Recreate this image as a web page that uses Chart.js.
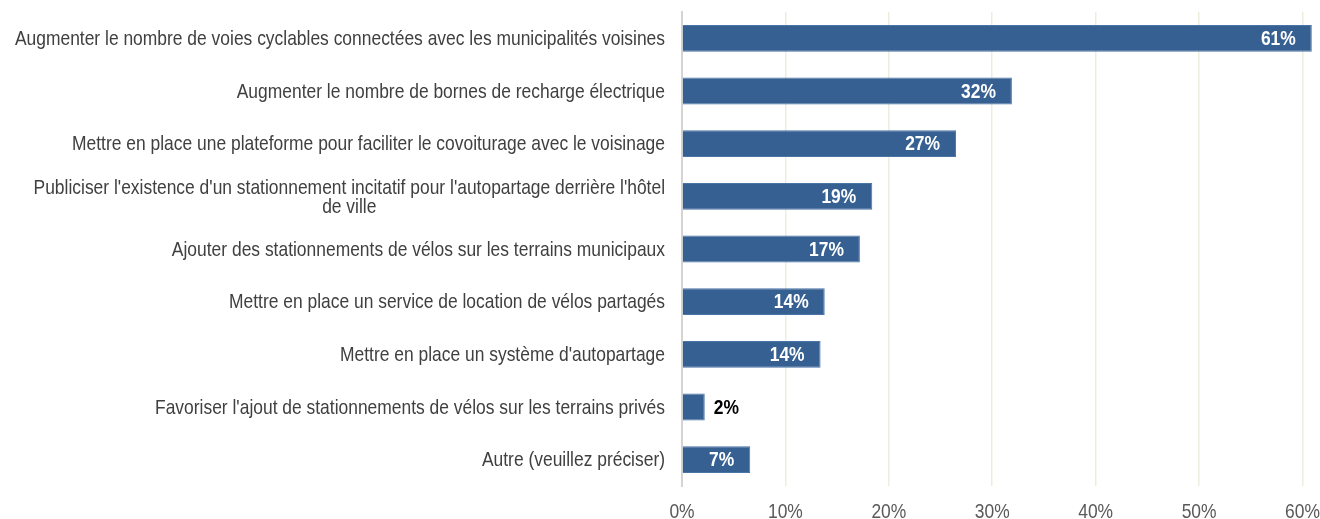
<!DOCTYPE html>
<html>
<head>
<meta charset="utf-8">
<script src="https://cdn.jsdelivr.net/npm/chart.js@4.4.1/dist/chart.umd.min.js"></script>
<style>
  html, body { margin: 0; padding: 0; background: #ffffff; }
  #wrap { width: 1320px; height: 519px; position: relative; }
</style>
</head>
<body>
<div id="wrap"><canvas id="chart"></canvas></div>
<script>
// categories (top to bottom)
const categories = [
    ["Augmenter le nombre de voies cyclables connectées avec les municipalités voisines"],
    ["Augmenter le nombre de bornes de recharge électrique"],
    ["Mettre en place une plateforme pour faciliter le covoiturage avec le voisinage"],
    ["Publiciser l'existence d'un stationnement incitatif pour l'autopartage derrière l'hôtel", "de ville"],
    ["Ajouter des stationnements de vélos sur les terrains municipaux"],
    ["Mettre en place un service de location de vélos partagés"],
    ["Mettre en place un système d'autopartage"],
    ["Favoriser l'ajout de stationnements de vélos sur les terrains privés"],
    ["Autre (veuillez préciser)"]
];

// share of respondents, in %
const values = [60.9, 31.9, 26.5, 18.4, 17.2, 13.8, 13.4, 2.2, 6.6];
const valueLabels = ["61%", "32%", "27%", "19%", "17%", "14%", "14%", "2%", "7%"];

const tickValues = [0, 10, 20, 30, 40, 50, 60];
const tickLabels = ["0%", "10%", "20%", "30%", "40%", "50%", "60%"];

// no Arial Narrow here, so squeeze Liberation Sans sideways
const FONT = "'Liberation Sans', Arial, sans-serif";
const NARROW = 0.83;

function narrowText(c, txt, x, y) {
    c.save();
    c.translate(x, y);
    c.scale(NARROW, 1);
    c.fillText(txt, 0, 0);
    c.restore();
}

// category labels: block right-aligned, wrapped lines centred inside the block
const categoryLabels = {
    id: "categoryLabels",
    afterDraw(chart) {
        const c = chart.ctx;
        const y = chart.scales.y;
        const right = chart.chartArea.left - 17;
        c.save();
        c.font = "21px " + FONT;
        c.fillStyle = "#404040";
        c.textAlign = "center";
        c.textBaseline = "middle";
        categories.forEach((lines, i) => {
            const w = Math.max(...lines.map(l => c.measureText(l).width)) * NARROW;
            const cx = right - w / 2;
            const cy = y.getPixelForValue(i) + 1;
            const lh = 19;
            lines.forEach((l, k) => {
                narrowText(c, l, cx, cy + (k - (lines.length - 1) / 2) * lh);
            });
        });
        c.restore();
    }
};

// percent ticks under the plot
const xTickLabels = {
    id: "xTickLabels",
    afterDraw(chart) {
        const c = chart.ctx;
        const x = chart.scales.x;
        c.save();
        c.font = "21px " + FONT;
        c.fillStyle = "#595959";
        c.textAlign = "center";
        c.textBaseline = "middle";
        tickValues.forEach((v, i) => {
            narrowText(c, tickLabels[i], x.getPixelForValue(v), chart.chartArea.bottom + 26);
        });
        c.restore();
    }
};

// value labels at the inside end of the bars
const valueLabelsPlugin = {
    id: "valueLabels",
    afterDatasetsDraw(chart) {
        const c = chart.ctx;
        const meta = chart.getDatasetMeta(0);
        c.save();
        c.font = "bold 21px " + FONT;
        c.textBaseline = "middle";
        meta.data.forEach((bar, i) => {
            const txt = valueLabels[i];
            const w = c.measureText(txt).width * NARROW;
            if (bar.x - bar.base > w + 20) {
                c.fillStyle = "#ffffff";
                c.textAlign = "right";
                narrowText(c, txt, bar.x - 16, bar.y + 1);
            } else {
                c.fillStyle = "#000000";
                c.textAlign = "left";
                narrowText(c, txt, bar.x + 9, bar.y + 1);
            }
        });
        c.restore();
    }
};

new Chart(document.getElementById("chart"), {
    type: "bar",
    data: {
        labels: categories.map(l => l.join(" ")),
        datasets: [{
            data: values,
            backgroundColor: "#376092",
            borderColor: "#4a74a6",
            borderWidth: 1,
            categoryPercentage: 1,
            barPercentage: 0.51
        }]
    },
    options: {
        indexAxis: "y",
        responsive: true,
        maintainAspectRatio: false,
        animation: false,
        layout: { padding: { top: 12, right: 2, bottom: 0, left: 0 } },
        plugins: {
            legend: { display: false },
            tooltip: { enabled: false }
        },
        scales: {
            x: {
                min: 0,
                max: 61.5,
                afterBuildTicks(scale) {
                    scale.ticks = tickValues.map(v => ({ value: v }));
                },
                afterFit(scale) { scale.height = 33; },
                ticks: { display: false },
                grid: {
                    color: "#ebeedd",
                    lineWidth: 1.5,
                    drawTicks: false
                },
                border: { display: false }
            },
            y: {
                afterFit(scale) { scale.width = 682; },
                ticks: { display: false },
                grid: { display: false, drawTicks: false },
                border: { display: true, color: "#d4d4d4", width: 2 }
            }
        }
    },
    plugins: [categoryLabels, xTickLabels, valueLabelsPlugin]
});
</script>
</body>
</html>
